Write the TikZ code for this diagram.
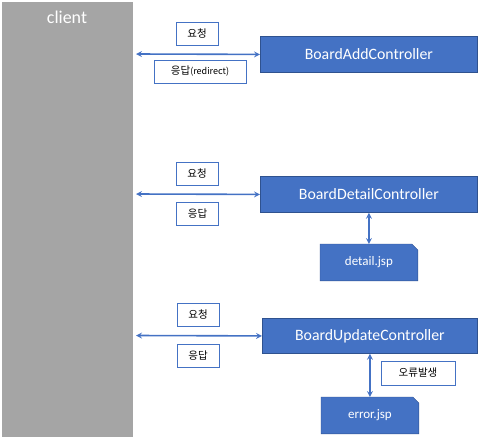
\documentclass[tikz,border=0pt]{standalone}
\usepackage{fontspec}
\setmainfont{Carlito}
\newfontfamily\kofont{Noto Sans CJK KR}
\usetikzlibrary{arrows,backgrounds,positioning}
\definecolor{boxblue}{HTML}{4472C4}
\definecolor{edgeblue}{HTML}{2F528F}
\definecolor{clientgray}{HTML}{A5A5A5}

\begin{document}
\begin{tikzpicture}[x=1pt,y=-1pt,
                    >=stealth,
                    line width=0.8pt]
    \tikzstyle{ctrl}=[rectangle,
                    anchor=north west,
                    minimum width=217pt,
                    minimum height=36pt,
                    fill=boxblue,
                    draw=edgeblue,
                    text=white,
                    font=\fontsize{15.8}{18}\selectfont]
    \tikzstyle{msg}=[rectangle,
                    minimum width=42pt,
                    minimum height=23pt,
                    draw=boxblue,
                    fill=white,
                    font=\kofont\fontsize{10.5}{12}\selectfont]
    \tikzstyle{jsp}=[rectangle,
                    anchor=north west,
                    minimum width=97pt,
                    minimum height=36pt,
                    text=white,
                    font=\fontsize{13}{15}\selectfont]
    \tikzstyle{call}=[<->, draw=boxblue, line width=1.6pt]

    \useasboundingbox (0,0) rectangle (479,440);

    % client column
    \node[rectangle, anchor=north west, fill=clientgray,
          minimum width=131pt, minimum height=435pt,
          inner sep=0pt, outer sep=0pt] (client) at (2,2) {};
    \node[text=white, font=\fontsize{18}{20}\selectfont] (clientname) at (67,17) {client};

    % controllers
    \node[ctrl] (addctrl) at (260,36) {BoardAddController};
    \node[ctrl] (detailctrl) at (260,176) {BoardDetailController};
    \node[ctrl, minimum width=215pt, minimum height=35pt] (updatectrl) at (262,318) {BoardUpdateController};

    % views
    \node[jsp] (detailjsp) at (320,244) {detail.jsp};
    \node[jsp] (errorjsp) at (321,397) {error.jsp};
    \begin{scope}[on background layer]
        \foreach \v in {detailjsp,errorjsp}
            \filldraw[fill=boxblue, draw=edgeblue]
                (\v.north west) -- ([xshift=-6pt]\v.north east)
                -- ([yshift=-6pt]\v.north east) -- (\v.south east)
                -- (\v.south west) -- cycle;
    \end{scope}

    % left ends of the calls
    \coordinate (addend) at (136,54);
    \coordinate (detailend) at (136,194);
    \coordinate (updateend) at (136,335.5);

    \draw[call] (addend) -- (addctrl.west);
    \draw[call] (detailend) -- (detailctrl.west);
    \draw[call] (updateend) -- (updatectrl.west);
    \draw[call] (detailctrl.south) -- (detailjsp.north);
    \draw[call] (updatectrl.south -| errorjsp.north) -- (errorjsp.north);

    % messages
    \node[msg] (addreq) at (197,33.5) {요청};
    \node[msg, minimum width=92pt] (addres) at (200,71.5) {응답\fontsize{9}{10}\selectfont(redirect)};
    \node[msg] (detailreq) at (197,174) {요청};
    \node[msg] (detailres) at (197.5,214) {응답};
    \node[msg] (updatereq) at (198,315) {요청};
    \node[msg] (updateres) at (198,356) {응답};
    \node[msg, minimum width=74pt, minimum height=24pt] (fault) at (418,373) {오류발생};
\end{tikzpicture}
\end{document}
